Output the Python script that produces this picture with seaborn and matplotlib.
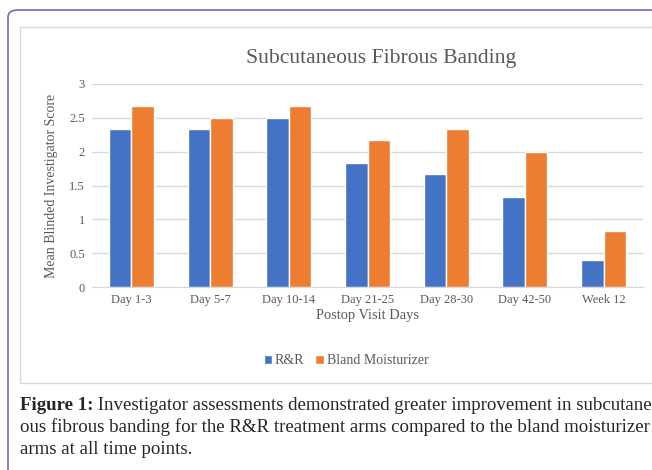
import seaborn as sns
import matplotlib.pyplot as plt
import pandas as pd
from matplotlib.patches import FancyBboxPatch, Rectangle

# chart values
visits = ["Day 1-3", "Day 5-7", "Day 10-14", "Day 21-25", "Day 28-30", "Day 42-50", "Week 12"]
rr_scores = [2.33, 2.33, 2.5, 1.83, 1.67, 1.33, 0.4]
bland_scores = [2.67, 2.5, 2.67, 2.17, 2.33, 2.0, 0.83]
groups = ["R&R", "Bland Moisturizer"]
colors = ["#4472C4", "#ED7D31"]

caption_bold = "Figure 1:"
caption_lines = [
    " Investigator assessments demonstrated greater improvement in subcutane-",
    "ous fibrous banding for the R&R treatment arms compared to the bland moisturizer",
    "arms at all time points.",
]

df = pd.DataFrame({
    "visit": visits * 2,
    "score": rr_scores + bland_scores,
    "group": [groups[0]] * len(visits) + [groups[1]] * len(visits),
})

sns.set_style("white")
plt.rcParams["font.family"] = ["Liberation Serif", "DejaVu Serif"]

fig = plt.figure(figsize=(6.52, 4.70), dpi=100)
W, H = 652, 470

# outer frame and inner chart area
fig.patches.append(FancyBboxPatch((8 / W, -20 / H), 700 / W, 480 / H,
                                  boxstyle="round,pad=0,rounding_size=0.015",
                                  transform=fig.transFigure, fill=False,
                                  edgecolor="#6b6fb3", linewidth=1.2))
fig.patches.append(Rectangle((20 / W, 1 - 383 / H), 700 / W, (383 - 27) / H,
                             transform=fig.transFigure, fill=False,
                             edgecolor="#d9d9d9", linewidth=1))

ax = fig.add_axes([92 / W, 1 - 287 / H, (643 - 92) / W, (287 - 84) / H])
sns.barplot(data=df, x="visit", y="score", hue="group", palette=colors,
            width=0.57, saturation=1, ax=ax, legend=True)

ax.set_ylim(0, 3)
ax.set_yticks([0, 0.5, 1, 1.5, 2, 2.5, 3])
ax.set_yticklabels(["0", "0.5", "1", "1.5", "2", "2.5", "3"])
ax.yaxis.grid(True, color="#d9d9d9", linewidth=1)
ax.set_axisbelow(True)
for s in ["top", "right", "left"]:
    ax.spines[s].set_visible(False)
ax.spines["bottom"].set_color("#d9d9d9")
ax.tick_params(axis="both", length=0, labelsize=9, colors="#595959", pad=5)

# title sits centred on the whole chart box, not on the plot area
ax.set_title("Subcutaneous Fibrous Banding", fontsize=15.6, color="#595959", pad=15,
             x=(381 - 92) / 551)
ax.set_xlabel("Postop Visit Days", fontsize=10.4, color="#595959", labelpad=2)
ax.set_ylabel("Mean Blinded Investigator Score", fontsize=10, color="#595959", labelpad=8)

ax.legend(loc="center", bbox_to_anchor=(346 / W, 1 - 361 / H), bbox_transform=fig.transFigure,
          ncol=2, frameon=False, fontsize=10, handlelength=0.6, handleheight=0.6,
          handletextpad=0.2, columnspacing=0.8, labelcolor="#595959")

# caption
fig.canvas.draw()
r = fig.canvas.get_renderer()
t = fig.text(20 / W, 1 - 405 / H, caption_bold, fontsize=13.6, fontweight="bold", va="center")
bb = t.get_window_extent(r)
x0 = bb.x1 / fig.bbox.width
fig.text(x0, 1 - 405 / H, caption_lines[0], fontsize=13.6, va="center")
fig.text(20 / W, 1 - 427 / H, caption_lines[1], fontsize=13.6, va="center")
fig.text(20 / W, 1 - 449 / H, caption_lines[2], fontsize=13.6, va="center")

fig.savefig("out.png", dpi=100)
